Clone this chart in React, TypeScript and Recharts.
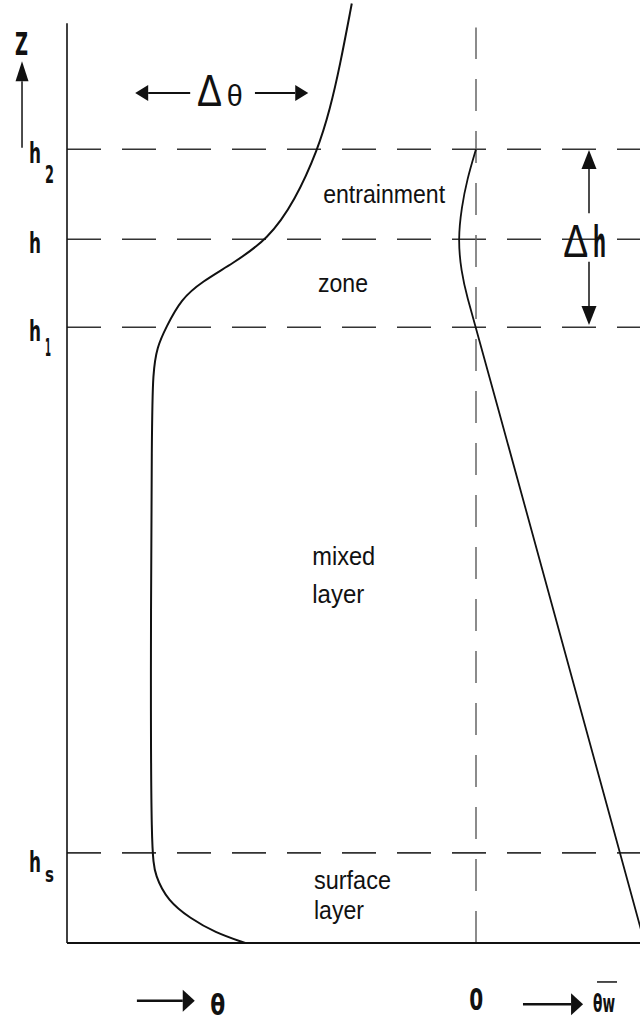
import { ComposedChart, Line, XAxis, YAxis, ReferenceLine, ReferenceDot } from 'recharts'

// heights in m (h = 1000 m), theta in arbitrary units, flux normalised by surface flux
const Z_TOP = 1340
const THETA_DOMAIN = [0, 100]
const FLUX_DOMAIN = [-2.464, 0.988]

const levels = [
  { name: 'h', sub: 's', z: 128 },
  { name: 'h', sub: '1', z: 875 },
  { name: 'h', sub: '', z: 1000 },
  { name: 'h', sub: '2', z: 1128 },
]

const thetaZ = [0, 15, 35, 60, 95, 128, 400, 740, 810, 847, 875, 915, 940, 965, 1000, 1055, 1128, 1185, 1245, 1335]
const thetaValues = [31.1, 25.8, 21.5, 17.6, 15.4, 14.7, 14.6, 14.8, 15.0, 15.7, 17.3, 19.9, 23.6, 28.8, 35.1, 39.8, 43.8, 45.9, 47.6, 49.7]

const fluxZ = [0, 128, 875, 915, 955, 1000, 1045, 1085, 1128]
const fluxValues = [1.016, 0.867, 0, -0.051, -0.09, -0.108, -0.087, -0.054, 0]

const thetaData = thetaZ.map((z, i) => ({ z, theta: thetaValues[i] }))
const fluxData = fluxZ.map((z, i) => ({ z, flux: fluxValues[i] }))

const NARROW = "'Liberation Sans Narrow', 'DejaVu Sans Condensed', 'Liberation Sans', sans-serif"
const SANS = "'Liberation Sans', Arial, sans-serif"
const INK = '#111'

// annotation texts placed in data coordinates
const zoneLabels = [
  { text: 'entrainment', theta: 44.7, z: 1051, len: 122 },
  { text: 'zone', theta: 43.8, z: 925, len: 50 },
  { text: 'mixed', theta: 42.8, z: 537, len: 63 },
  { text: 'layer', theta: 42.8, z: 483, len: 52 },
  { text: 'surface', theta: 43.1, z: 77, len: 77 },
  { text: 'layer', theta: 43.1, z: 34, len: 50 },
]

const arrows = [
  { axis: 'theta', from: [-7.85, 1130], to: [-7.85, 1253], head: 20, width: 13, sw: 1.5 },
  { axis: 'theta', from: [21.5, 1208], to: [11.9, 1208], head: 13, width: 16, sw: 2 },
  { axis: 'theta', from: [32.8, 1208], to: [42.1, 1208], head: 13, width: 16, sw: 2 },
  { axis: 'theta', from: [91.1, 1037], to: [91.1, 1127], head: 19, width: 15, sw: 1.5 },
  { axis: 'theta', from: [91.1, 968], to: [91.1, 878], head: 19, width: 15, sw: 1.5 },
  { axis: 'theta', from: [12.2, -82], to: [22.3, -82], head: 12, width: 22, sw: 2.5 },
  { axis: 'flux', from: [0.283, -87], to: [0.645, -87], head: 12, width: 22, sw: 2.5 },
]

const glyphs = [
  { axis: 'theta', x: -9.07, z: 1262, text: 'Z', size: 32, len: 13, weight: 'bold', family: NARROW },
  { axis: 'theta', x: 22.7, z: 1189, text: 'Δ', size: 44, len: 25, weight: 'normal', family: SANS },
  { axis: 'theta', x: 27.9, z: 1189, text: 'θ', size: 30, len: 16, weight: 'normal', family: SANS },
  { axis: 'theta', x: 86.6, z: 975, text: 'Δ', size: 46, len: 25, weight: 'normal', family: SANS },
  { axis: 'theta', x: 91.8, z: 975, text: 'h', size: 42, len: 13, weight: 'bold', family: NARROW },
  { axis: 'theta', x: 25.0, z: -102, text: 'θ', size: 29, len: 15, weight: 'bold', family: NARROW },
  { axis: 'flux', x: -0.04, z: -95, text: '0', size: 30, len: 14, weight: 'bold', family: NARROW },
  { axis: 'flux', x: 0.705, z: -98, text: 'θw', size: 25, len: 22, weight: 'bold', family: NARROW },
]

function ArrowShape(props: any) {
  const { x1, y1, x2, y2, head, width, sw } = props
  const dx = x2 - x1
  const dy = y2 - y1
  const len = Math.hypot(dx, dy) || 1
  const ux = dx / len
  const uy = dy / len
  const bx = x2 - ux * head
  const by = y2 - uy * head
  const px = (-uy * width) / 2
  const py = (ux * width) / 2
  return (
    <g>
      <line x1={x1} y1={y1} x2={bx} y2={by} stroke={INK} strokeWidth={sw} />
      <polygon points={`${x2},${y2} ${bx + px},${by + py} ${bx - px},${by - py}`} fill={INK} />
    </g>
  )
}

function LevelLabel({ viewBox, sub }: any) {
  if (!viewBox) return null
  const x = viewBox.x - 38
  const y = viewBox.y
  const isS = sub === 's'
  return (
    <g fill={INK} fontFamily={NARROW} fontWeight="bold">
      <text x={x} y={y + (isS ? 19 : 14)} fontSize={28} textLength={12} lengthAdjust="spacingAndGlyphs">
        h
      </text>
      {sub && (
        <text
          x={x + 16}
          y={y + (isS ? 29 : sub === '1' ? 29 : 34)}
          fontSize={sub === 's' ? 22 : 25}
          textLength={sub === '1' ? 6 : 9}
          lengthAdjust="spacingAndGlyphs"
        >
          {sub}
        </text>
      )}
    </g>
  )
}

export default function App() {
  return (
    <div style={{ position: 'absolute', left: 0, top: 0, width: 640, height: 1023, background: '#fff' }}>
      <ComposedChart
        width={640}
        height={1023}
        layout="vertical"
        margin={{ top: 0, right: 0, bottom: 80, left: 67 }}
      >
        <XAxis xAxisId="theta" type="number" domain={THETA_DOMAIN} allowDataOverflow hide />
        <XAxis xAxisId="flux" type="number" domain={FLUX_DOMAIN} allowDataOverflow hide />
        <YAxis type="number" dataKey="z" domain={[0, Z_TOP]} allowDataOverflow reversed hide />

        {levels.map((lv) => (
          <ReferenceLine
            key={lv.sub || 'h'}
            xAxisId="theta"
            y={lv.z}
            stroke="#333"
            strokeWidth={1.6}
            strokeDasharray="34 21"
            label={(p: any) => <LevelLabel viewBox={p.viewBox} sub={lv.sub} />}
          />
        ))}

        <ReferenceLine
          xAxisId="flux"
          segment={[{ x: 0, y: 0 }, { x: 0, y: 1301 }]}
          stroke="#666"
          strokeWidth={1.5}
          strokeDasharray="32 20"
          ifOverflow="visible"
        />
        <ReferenceLine
          xAxisId="theta"
          segment={[{ x: 0, y: 0 }, { x: 0, y: 1307 }]}
          stroke={INK}
          strokeWidth={1.6}
          ifOverflow="visible"
        />
        <ReferenceLine xAxisId="theta" y={0} stroke={INK} strokeWidth={2.2} />

        <Line
          xAxisId="theta"
          data={thetaData}
          dataKey="theta"
          type="basis"
          stroke={INK}
          strokeWidth={2}
          dot={false}
          activeDot={false}
          isAnimationActive={false}
        />
        <Line
          xAxisId="flux"
          data={fluxData}
          dataKey="flux"
          type="basis"
          stroke={INK}
          strokeWidth={1.8}
          dot={false}
          activeDot={false}
          isAnimationActive={false}
        />

        {arrows.map((a, i) => (
          <ReferenceLine
            key={`arrow-${i}`}
            xAxisId={a.axis}
            segment={[{ x: a.from[0], y: a.from[1] }, { x: a.to[0], y: a.to[1] }]}
            ifOverflow="visible"
            shape={(p: any) => <ArrowShape {...p} head={a.head} width={a.width} sw={a.sw} />}
          />
        ))}

        {zoneLabels.map((l, i) => (
          <ReferenceDot
            key={`zone-${i}`}
            xAxisId="theta"
            x={l.theta}
            y={l.z}
            r={1}
            ifOverflow="visible"
            shape={(p: any) => (
              <text
                x={p.cx}
                y={p.cy}
                fontFamily={SANS}
                fontSize={25}
                fill={INK}
                textLength={l.len}
                lengthAdjust="spacingAndGlyphs"
              >
                {l.text}
              </text>
            )}
          />
        ))}

        {glyphs.map((g, i) => (
          <ReferenceDot
            key={`glyph-${i}`}
            xAxisId={g.axis}
            x={g.x}
            y={g.z}
            r={1}
            ifOverflow="visible"
            shape={(p: any) => (
              <g>
                <text
                  x={p.cx}
                  y={p.cy}
                  fontFamily={g.family}
                  fontWeight={g.weight}
                  fontSize={g.size}
                  fill={INK}
                  textLength={g.len}
                  lengthAdjust="spacingAndGlyphs"
                >
                  {g.text}
                </text>
                {g.text === 'θw' && (
                  <line x1={p.cx + 4} y1={p.cy - 30} x2={p.cx + 24} y2={p.cy - 30} stroke={INK} strokeWidth={1.5} />
                )}
              </g>
            )}
          />
        ))}
      </ComposedChart>
    </div>
  )
}
